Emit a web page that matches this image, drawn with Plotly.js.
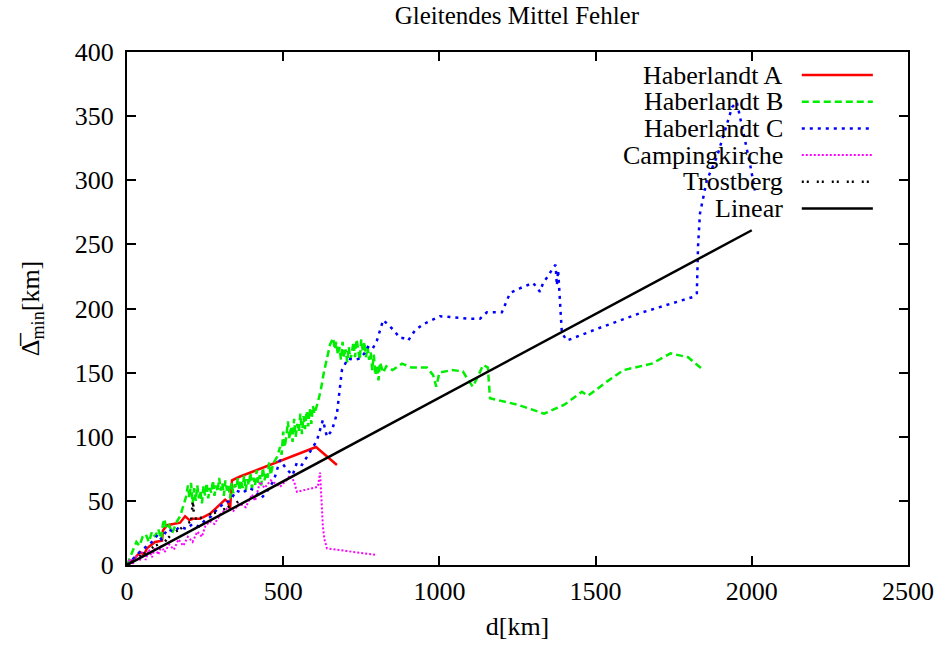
<!DOCTYPE html>
<html>
<head>
<meta charset="utf-8">
<script src="https://cdn.plot.ly/plotly-3.0.1.min.js"></script>
<style>
html,body{margin:0;padding:0;background:#fff}
#chart{width:938px;height:648px}
#chart svg text, #chart svg tspan { font-family: "Liberation Serif", "Times New Roman", "DejaVu Serif", serif !important; }
</style>
</head>
<body>
<div id="chart"></div>
<script>
// ---- data ----
const seriesNames = ["Haberlandt A", "Haberlandt B", "Haberlandt C", "Campingkirche", "Trostberg", "Linear"];

const habA_x = [0, 20, 42, 55, 64, 90, 112, 115, 128, 170, 186, 200, 211, 234, 266, 298, 314, 323, 330, 336, 362, 605, 672];
const habA_y = [0, 4, 10, 8, 13, 18, 19, 27, 31, 33, 38, 35, 36, 36, 40, 47, 51, 49, 44, 66, 69, 92, 78];

const habB_x = [0, 10, 20, 30, 40, 50, 60, 70, 80, 90, 100, 110, 115, 120, 125, 135, 145, 160, 170, 180, 190, 195, 200, 205, 210, 215, 220, 225, 230, 235, 240, 245, 250, 255, 260, 265, 270, 275, 280, 285, 290, 295, 300, 305, 310, 315, 320, 325, 330, 335, 340, 345, 350, 355, 360, 365, 370, 375, 380, 385, 390, 395, 400, 405, 410, 415, 420, 425, 430, 435, 440, 445, 450, 455, 460, 465, 470, 480, 490, 495, 500, 505, 510, 515, 520, 525, 530, 535, 540, 545, 550, 555, 560, 565, 570, 575, 580, 585, 590, 595, 600, 610, 620, 630, 640, 650, 660, 665, 670, 675, 680, 685, 690, 695, 700, 705, 710, 715, 720, 725, 730, 735, 740, 745, 750, 755, 760, 765, 770, 775, 780, 785, 790, 795, 800, 805, 810, 820, 830, 850, 880, 910, 960, 980, 990, 1000, 1040, 1075, 1090, 1107, 1125, 1140, 1155, 1162, 1250, 1335, 1400, 1456, 1476, 1536, 1590, 1680, 1740, 1796, 1845];
const habB_y = [0, 6, 12, 18, 15, 22, 24, 18, 26, 22, 28, 20, 32, 36, 28, 31, 25, 34, 38, 46, 54, 62, 52, 64, 48, 60, 50, 62, 52, 58, 48, 62, 54, 64, 52, 60, 56, 66, 54, 62, 57, 68, 58, 64, 54, 66, 58, 62, 52, 64, 56, 63, 60, 68, 58, 66, 60, 70, 58, 67, 62, 72, 60, 68, 62, 74, 64, 70, 62, 76, 66, 72, 68, 80, 70, 76, 80, 84, 92, 86, 104, 92, 100, 112, 98, 108, 96, 114, 100, 110, 104, 118, 102, 116, 106, 120, 108, 122, 110, 124, 118, 126, 136, 150, 162, 172, 177, 168, 174, 164, 170, 160, 174, 162, 168, 158, 170, 160, 166, 174, 162, 176, 168, 160, 176, 166, 174, 162, 170, 160, 166, 152, 164, 148, 156, 144, 158, 150, 155, 152, 157, 154, 154, 148, 139, 150, 152, 151, 145, 139, 148, 156, 154, 130, 125, 118, 125, 135, 132, 143, 152, 157, 165, 162, 152];

const habC_x = [0, 20, 40, 60, 80, 100, 110, 130, 150, 170, 190, 210, 230, 250, 270, 290, 310, 330, 350, 370, 390, 410, 430, 450, 470, 490, 510, 530, 544, 560, 586, 608, 627, 640, 656, 672, 688, 707, 726, 746, 760, 771, 785, 800, 810, 820, 850, 874, 883, 900, 922, 950, 1002, 1050, 1100, 1130, 1152, 1200, 1216, 1226, 1260, 1300, 1322, 1332, 1350, 1364, 1372, 1376, 1380, 1386, 1392, 1408, 1514, 1650, 1812, 1824, 1826, 1828, 1834, 1856, 1888, 1908, 1937, 1952, 1972, 1994, 2010];
const habC_y = [0, 5, 10, 14, 18, 24, 20, 28, 26, 30, 28, 32, 30, 35, 38, 44, 48, 50, 58, 56, 60, 58, 52, 58, 66, 82, 75, 70, 80, 78, 88, 97, 113, 100, 105, 118, 152, 161, 160, 161, 165, 170, 168, 175, 183, 191, 184, 177, 177, 175, 183, 188, 194, 193, 192, 192, 197, 197, 207, 212, 216, 220, 213, 220, 226, 232, 234, 218, 230, 207, 181, 175, 185, 197, 209, 212, 232, 249, 274, 300, 318, 334, 357, 361, 339, 313, 292];

const camp_x = [0, 10, 20, 30, 40, 50, 60, 70, 80, 90, 100, 110, 120, 135, 150, 165, 180, 195, 210, 225, 240, 250, 265, 280, 300, 320, 340, 360, 380, 400, 410, 426, 440, 460, 490, 510, 522, 535, 544, 575, 611, 618, 622, 627, 632, 640, 700, 794];
const camp_y = [0, 5, 1, 7, 3, 10, 4, 12, 6, 14, 8, 15, 10, 16, 12, 20, 15, 22, 18, 26, 22, 30, 34, 32, 40, 44, 42, 48, 45, 55, 50, 65, 60, 66, 61, 66, 70, 65, 57, 59, 61, 72, 50, 30, 20, 13, 11, 8];

const tros_x = [0, 30, 60, 90, 120, 147, 170, 190, 205, 211, 215, 240, 270, 300, 330, 360];
const tros_y = [0, 5, 10, 15, 18, 25, 28, 32, 34, 51, 36, 37, 40, 42, 46, 50];

const lin_x = [0, 2000];
const lin_y = [0, 261];

const xTicks = [0, 500, 1000, 1500, 2000, 2500];
const yTicks = [0, 50, 100, 150, 200, 250, 300, 350, 400];

// ---- styles ----
const styles = [
  {color: "#ff0000", dash: "solid", width: 2.5},
  {color: "#00ee00", dash: "7px,4px", width: 2.5},
  {color: "#0000ff", dash: "3px,5px", width: 2.5},
  {color: "#ff00ff", dash: "2px,2px", width: 2},
  {color: "#000000", dash: "2px,3px,2px,8px", width: 2.5},
  {color: "#000000", dash: "solid", width: 2.5}
];
const xs = [habA_x, habB_x, habC_x, camp_x, tros_x, lin_x];
const ys = [habA_y, habB_y, habC_y, camp_y, tros_y, lin_y];

const traces = seriesNames.map((n, i) => ({
  type: "scatter", mode: "lines", name: n, x: xs[i], y: ys[i],
  line: {color: styles[i].color, dash: styles[i].dash, width: styles[i].width},
  showlegend: false, hoverinfo: "skip"
}));

// ---- gnuplot-style legend (text right-aligned, sample on the right) ----
const serif = "Liberation Serif";
const annotations = [];
const shapes = [];
const legTop = 0.955, legStep = 0.052;
seriesNames.forEach((n, i) => {
  const yy = legTop - i * legStep;
  annotations.push({xref: "paper", yref: "paper", x: 0.842, y: yy, xanchor: "right", yanchor: "middle",
    text: n, showarrow: false, font: {family: serif, size: 26, color: "#000"}});
  shapes.push({type: "line", xref: "paper", yref: "paper", x0: 0.864, x1: 0.955, y0: yy, y1: yy,
    line: {color: styles[i].color, dash: styles[i].dash, width: styles[i].width}});
});

const layout = {
  width: 938, height: 648,
  margin: {l: 127, r: 30, t: 52, b: 83},
  paper_bgcolor: "#fff", plot_bgcolor: "#fff",
  font: {family: serif, size: 26, color: "#000"},
  title: {text: "Gleitendes Mittel Fehler", x: 0.551, xanchor: "center", y: 0.977, yanchor: "middle",
    font: {family: serif, size: 25, color: "#000"}},
  xaxis: {
    range: [0, 2500], tickvals: xTicks, ticktext: xTicks.map(String),
    showgrid: false, zeroline: false, showline: true, linecolor: "#000", linewidth: 2,
    mirror: "ticks", ticks: "inside", ticklen: 9, tickwidth: 2, tickcolor: "#000",
    tickfont: {family: serif, size: 26}, ticklabelstandoff: 2,
    title: {text: "d[km]", font: {family: serif, size: 26}, standoff: 12}
  },
  yaxis: {
    range: [0, 400], tickvals: yTicks, ticktext: yTicks.map(String),
    showgrid: false, zeroline: false, showline: true, linecolor: "#000", linewidth: 2,
    mirror: "ticks", ticks: "inside", ticklen: 9, tickwidth: 2, tickcolor: "#000",
    tickfont: {family: serif, size: 26}, ticklabelstandoff: 6,
    title: {text: "Δ\u0305<sub>min</sub>[km]", font: {family: serif, size: 26}, standoff: 28}
  },
  annotations: annotations,
  shapes: shapes
};

Plotly.newPlot("chart", traces, layout, {staticPlot: true, displayModeBar: false});
</script>
</body>
</html>
